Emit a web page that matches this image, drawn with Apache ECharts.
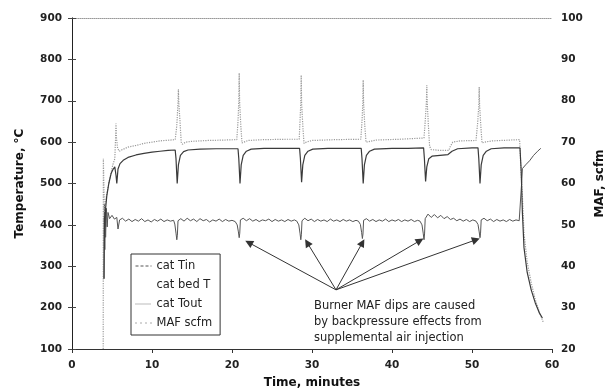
<!DOCTYPE html>
<html>
<head>
<meta charset="utf-8">
<script src="https://cdn.jsdelivr.net/npm/echarts/dist/echarts.min.js"></script>
<style>html,body{margin:0;padding:0;background:#fff}#c{width:605px;height:391px}</style>
</head>
<body>
<div id="c"></div>
<script>
// ---- data ----
const xTicks = [0, 10, 20, 30, 40, 50, 60];
const tempTicks = [100, 200, 300, 400, 500, 600, 700, 800, 900];
const mafTicks = [20, 30, 40, 50, 60, 70, 80, 90, 100];
const seriesNames = ['cat Tin', 'cat bed T', 'cat Tout', 'MAF scfm'];

// cat Tin (°C) — dark line with dips
const tinT = [4.0,4.05,4.1,4.2,4.35,4.6,4.9,5.15,5.35,5.5,5.6,5.75,6.0,6.4,7.0,8.0,9.0,10.0,11.0,12.0,12.9,13.0,13.15,13.3,13.55,13.95,14.5,16,18,20,20.75,20.85,21.0,21.15,21.4,21.8,22.4,24,26,28.45,28.55,28.7,28.85,29.1,29.5,30.1,32,34,36.15,36.25,36.4,36.55,36.8,37.2,37.8,40,42,43.95,44.05,44.2,44.35,44.6,45.0,46.0,47.0,47.5,48.2,50,50.75,50.85,51.0,51.15,51.4,51.8,52.4,54,56.0,56.15,56.3,56.5,56.9,57.4,57.9,58.4,58.8];
const tinV = [270,420,395,440,470,500,525,535,540,520,500,535,548,556,563,569,573,576,578,580,581,560,500,545,568,577,581,583,584,584,584,560,500,545,568,578,583,585,585,585,560,503,545,568,578,583,585,585,585,560,500,545,568,578,583,585,585,586,560,505,540,560,566,568,570,578,584,586,586,560,500,545,568,578,584,586,586,530,430,345,285,243,212,188,175];

// cat bed T — no visible trace
const bedT = [];
const bedV = [];

// cat Tout (°C) — grey dotted line with spikes
const toutT = [3.9,3.92,4.05,4.3,4.7,5.1,5.35,5.45,5.5,5.55,5.7,5.9,6.3,7,8,9,10,11,12.9,13.1,13.25,13.3,13.35,13.5,13.65,13.8,14.2,15,17,19,20.6,20.75,20.85,20.9,20.95,21.1,21.25,21.5,22,24,27,28.4,28.5,28.6,28.65,28.7,28.85,29.0,29.3,30,33,36.1,36.25,36.35,36.4,36.45,36.6,36.75,37,38,41,44.0,44.15,44.3,44.35,44.4,44.55,44.7,44.9,46,47.1,47.3,47.6,48.5,50.5,50.7,50.85,50.9,50.95,51.1,51.25,51.6,52.5,55.95,56.1,56.3,56.5,56.9,57.4,57.9,58.4,58.9];
const toutV = [100,560,430,470,510,545,560,612,645,612,585,578,582,588,592,597,600,603,606,640,695,728,695,650,600,595,600,602,604,605,606,650,700,767,700,640,598,600,604,606,607,607,650,695,762,695,640,597,600,604,606,607,650,694,750,694,640,600,601,605,607,610,650,697,738,697,640,590,582,580,580,590,600,603,604,645,689,733,689,640,598,600,603,606,540,470,380,310,260,220,190,165];

// MAF (scfm, right axis)
const mafT = [4.0,4.05,4.1,4.15,4.2,4.3,4.4,4.5,4.7,5.0,5.3,5.6,5.75,5.85,5.95,6.3,6.7,7.1,7.5,7.9,8.3,8.7,9.1,9.5,9.9,10.3,10.7,11.1,11.5,11.9,12.3,12.7,12.85,13.0,13.1,13.17,13.25,13.6,14.0,14.4,14.8,15.2,15.6,16.0,16.4,16.8,17.2,17.6,18.0,18.4,18.8,19.2,19.6,20.0,20.4,20.65,20.8,20.9,20.97,21.05,21.4,21.8,22.2,22.6,23.0,23.4,23.8,24.2,24.6,25.0,25.4,25.8,26.2,26.6,27.0,27.4,27.8,28.1,28.35,28.5,28.6,28.67,28.75,29.1,29.5,29.9,30.3,30.7,31.1,31.5,31.9,32.3,32.7,33.1,33.5,33.9,34.3,34.7,35.1,35.5,35.8,36.05,36.2,36.3,36.37,36.45,36.8,37.2,37.6,38.0,38.4,38.8,39.2,39.6,40.0,40.4,40.8,41.2,41.6,42.0,42.4,42.8,43.2,43.5,43.75,43.9,44.0,44.07,44.15,44.5,44.9,45.3,45.7,46.1,46.5,46.9,47.3,47.7,48.1,48.5,48.9,49.3,49.7,50.1,50.5,50.75,50.9,51.0,51.07,51.15,51.5,51.9,52.3,52.7,53.1,53.5,53.9,54.3,54.7,55.1,55.5,55.9,56.15,56.2,56.3,56.7,57.2,57.7,58.2,58.6];
const mafV = [37.0,55.0,44.0,53.5,47.0,54.0,49.5,53.0,51.5,52.3,51.4,51.8,49.0,48.8,51.2,51.6,50.9,51.4,50.8,51.3,50.9,51.5,50.8,51.2,50.7,51.3,50.9,51.4,50.8,51.2,50.9,51.1,50.2,48.0,46.4,47.5,51.0,51.5,50.9,51.6,51.0,51.4,50.8,51.5,51.0,51.3,50.7,51.2,50.9,51.4,50.8,51.3,50.9,51.1,50.8,50.0,48.3,46.9,48.0,51.2,51.6,51.0,51.5,50.9,51.3,50.8,51.2,51.0,51.4,50.8,51.3,50.9,51.2,50.8,51.3,50.9,51.2,50.9,50.0,48.0,46.4,47.6,51.0,51.6,51.0,51.4,50.8,51.3,50.9,51.2,50.8,51.4,50.9,51.2,50.8,51.3,50.9,51.2,50.8,51.1,50.9,50.1,48.2,46.7,47.8,51.1,51.5,50.9,51.3,50.8,51.2,50.9,51.4,50.8,51.2,50.9,51.3,50.8,51.2,50.9,51.3,50.8,51.1,50.9,50.0,48.0,46.4,47.8,51.5,52.6,51.8,52.5,51.7,52.3,51.5,52.0,51.3,51.6,51.0,51.4,50.9,51.3,50.8,51.2,50.9,50.1,48.3,46.9,48.0,51.2,51.6,51.0,51.4,50.8,51.3,50.9,51.2,50.8,51.3,50.9,51.2,51.0,51.1,60.0,63.6,64.5,65.5,66.8,67.8,68.5];

// annotation arrows: origin and tips, in (minutes, °C)
const arrowFrom = [33, 243];
const arrowTips = [[22.1, 357], [29.4, 357], [36.3, 357], [43.5, 362], [50.5, 364]];
const noteText = 'Burner MAF dips are caused\nby backpressure effects from\nsupplemental air injection';

const zip = (a, b) => a.map((t, i) => [t, b[i]]);

const FONT = '"DejaVu Sans", "Liberation Sans", Arial, sans-serif';
const lbl = { fontFamily: FONT, fontSize: 10.5, fontWeight: 'bold', color: '#222' };
const ttl = { fontFamily: FONT, fontSize: 12, fontWeight: 'bold', color: '#111' };

const chart = echarts.init(document.getElementById('c'), null, { renderer: 'canvas' });
chart.setOption({
  animation: false,
  backgroundColor: '#fff',
  grid: { left: 72, right: 53, top: 18, bottom: 42, outerBoundsMode: 'none', containLabel: false },
  legend: {
    show: true,
    orient: 'vertical', left: 131, top: 254,
    padding: [6, 8, 6, 4], itemWidth: 16, itemHeight: 10, itemGap: 7,
    borderColor: '#333', borderWidth: 1, backgroundColor: '#fff',
    textStyle: { fontFamily: FONT, fontSize: 11.5, color: '#222' },
    itemStyle: { opacity: 0 },
    data: [
      { name: seriesNames[0], lineStyle: { type: [3, 2], color: '#555', width: 1 } },
      { name: seriesNames[1], lineStyle: { opacity: 0 } },
      { name: seriesNames[2], lineStyle: { type: [1, 1], color: '#777', width: 1 } },
      { name: seriesNames[3], lineStyle: { type: [1, 4], color: '#555', width: 1 } }
    ]
  },
  xAxis: [{
    type: 'value', min: 0, max: 60, interval: 10,
    name: 'Time, minutes', nameLocation: 'middle', nameGap: 28,
    nameTextStyle: ttl,
    axisLine: { lineStyle: { color: '#333', width: 1 } },
    axisTick: { inside: false, length: 4, lineStyle: { color: '#333' } },
    axisLabel: Object.assign({ margin: 11 }, lbl),
    splitLine: { show: false }
  }, {
    type: 'value', min: 0, max: 60, position: 'top',
    axisLine: { show: true, lineStyle: { color: '#999', type: 'dotted' } },
    axisTick: { show: false }, axisLabel: { show: false }, splitLine: { show: false }
  }],
  yAxis: [{
    type: 'value', min: 100, max: 900, interval: 100,
    name: 'Temperature, °C', nameLocation: 'middle', nameRotate: 90, nameGap: 46,
    nameTextStyle: ttl,
    axisLine: { show: true, lineStyle: { color: '#666', width: 1 } },
    axisTick: { show: true, inside: false, length: 4, lineStyle: { color: '#444' } },
    axisLabel: Object.assign({ margin: 10 }, lbl),
    splitLine: { show: false }
  }, {
    type: 'value', min: 20, max: 100, interval: 10, position: 'right',
    name: 'MAF, scfm', nameLocation: 'middle', nameRotate: 90, nameGap: 40,
    nameTextStyle: ttl,
    axisLine: { show: true, lineStyle: { color: '#222', width: 1 } },
    axisTick: { show: true, inside: false, length: 4, lineStyle: { color: '#444' } },
    axisLabel: Object.assign({ margin: 9 }, lbl),
    splitLine: { show: false }
  }],
  series: [
    {
      name: seriesNames[0], type: 'line', yAxisIndex: 0, symbol: 'none',
      data: zip(tinT, tinV),
      lineStyle: { color: '#3a3a3a', width: 1.2 }, itemStyle: { color: '#3a3a3a' },
      z: 4,
      markLine: {
        silent: true, symbol: ['none', 'triangle'], symbolSize: 8,
        label: { show: false },
        lineStyle: { color: '#333', width: 1, type: 'solid' },
        itemStyle: { color: '#222' },
        data: arrowTips.map(tp => [{ coord: arrowFrom }, { coord: tp }])
      }
    },
    {
      name: seriesNames[1], type: 'line', yAxisIndex: 0, symbol: 'none',
      data: zip(bedT, bedV),
      lineStyle: { color: 'rgba(0,0,0,0)', width: 0 }, itemStyle: { color: 'rgba(0,0,0,0)' }
    },
    {
      name: seriesNames[2], type: 'line', yAxisIndex: 0, symbol: 'none',
      data: zip(toutT, toutV),
      lineStyle: { color: '#9a9a9a', width: 1.2, type: 'dotted' }, itemStyle: { color: '#9a9a9a' },
      z: 3
    },
    {
      name: seriesNames[3], type: 'line', yAxisIndex: 1, symbol: 'none',
      data: zip(mafT, mafV),
      lineStyle: { color: '#555', width: 1 }, itemStyle: { color: '#555' },
      z: 2
    }
  ],
  graphic: [{
    type: 'text', left: 314, top: 298,
    style: { text: noteText, font: '11.5px ' + FONT, fill: '#222', lineHeight: 16 }
  }]
});
</script>
</body>
</html>
